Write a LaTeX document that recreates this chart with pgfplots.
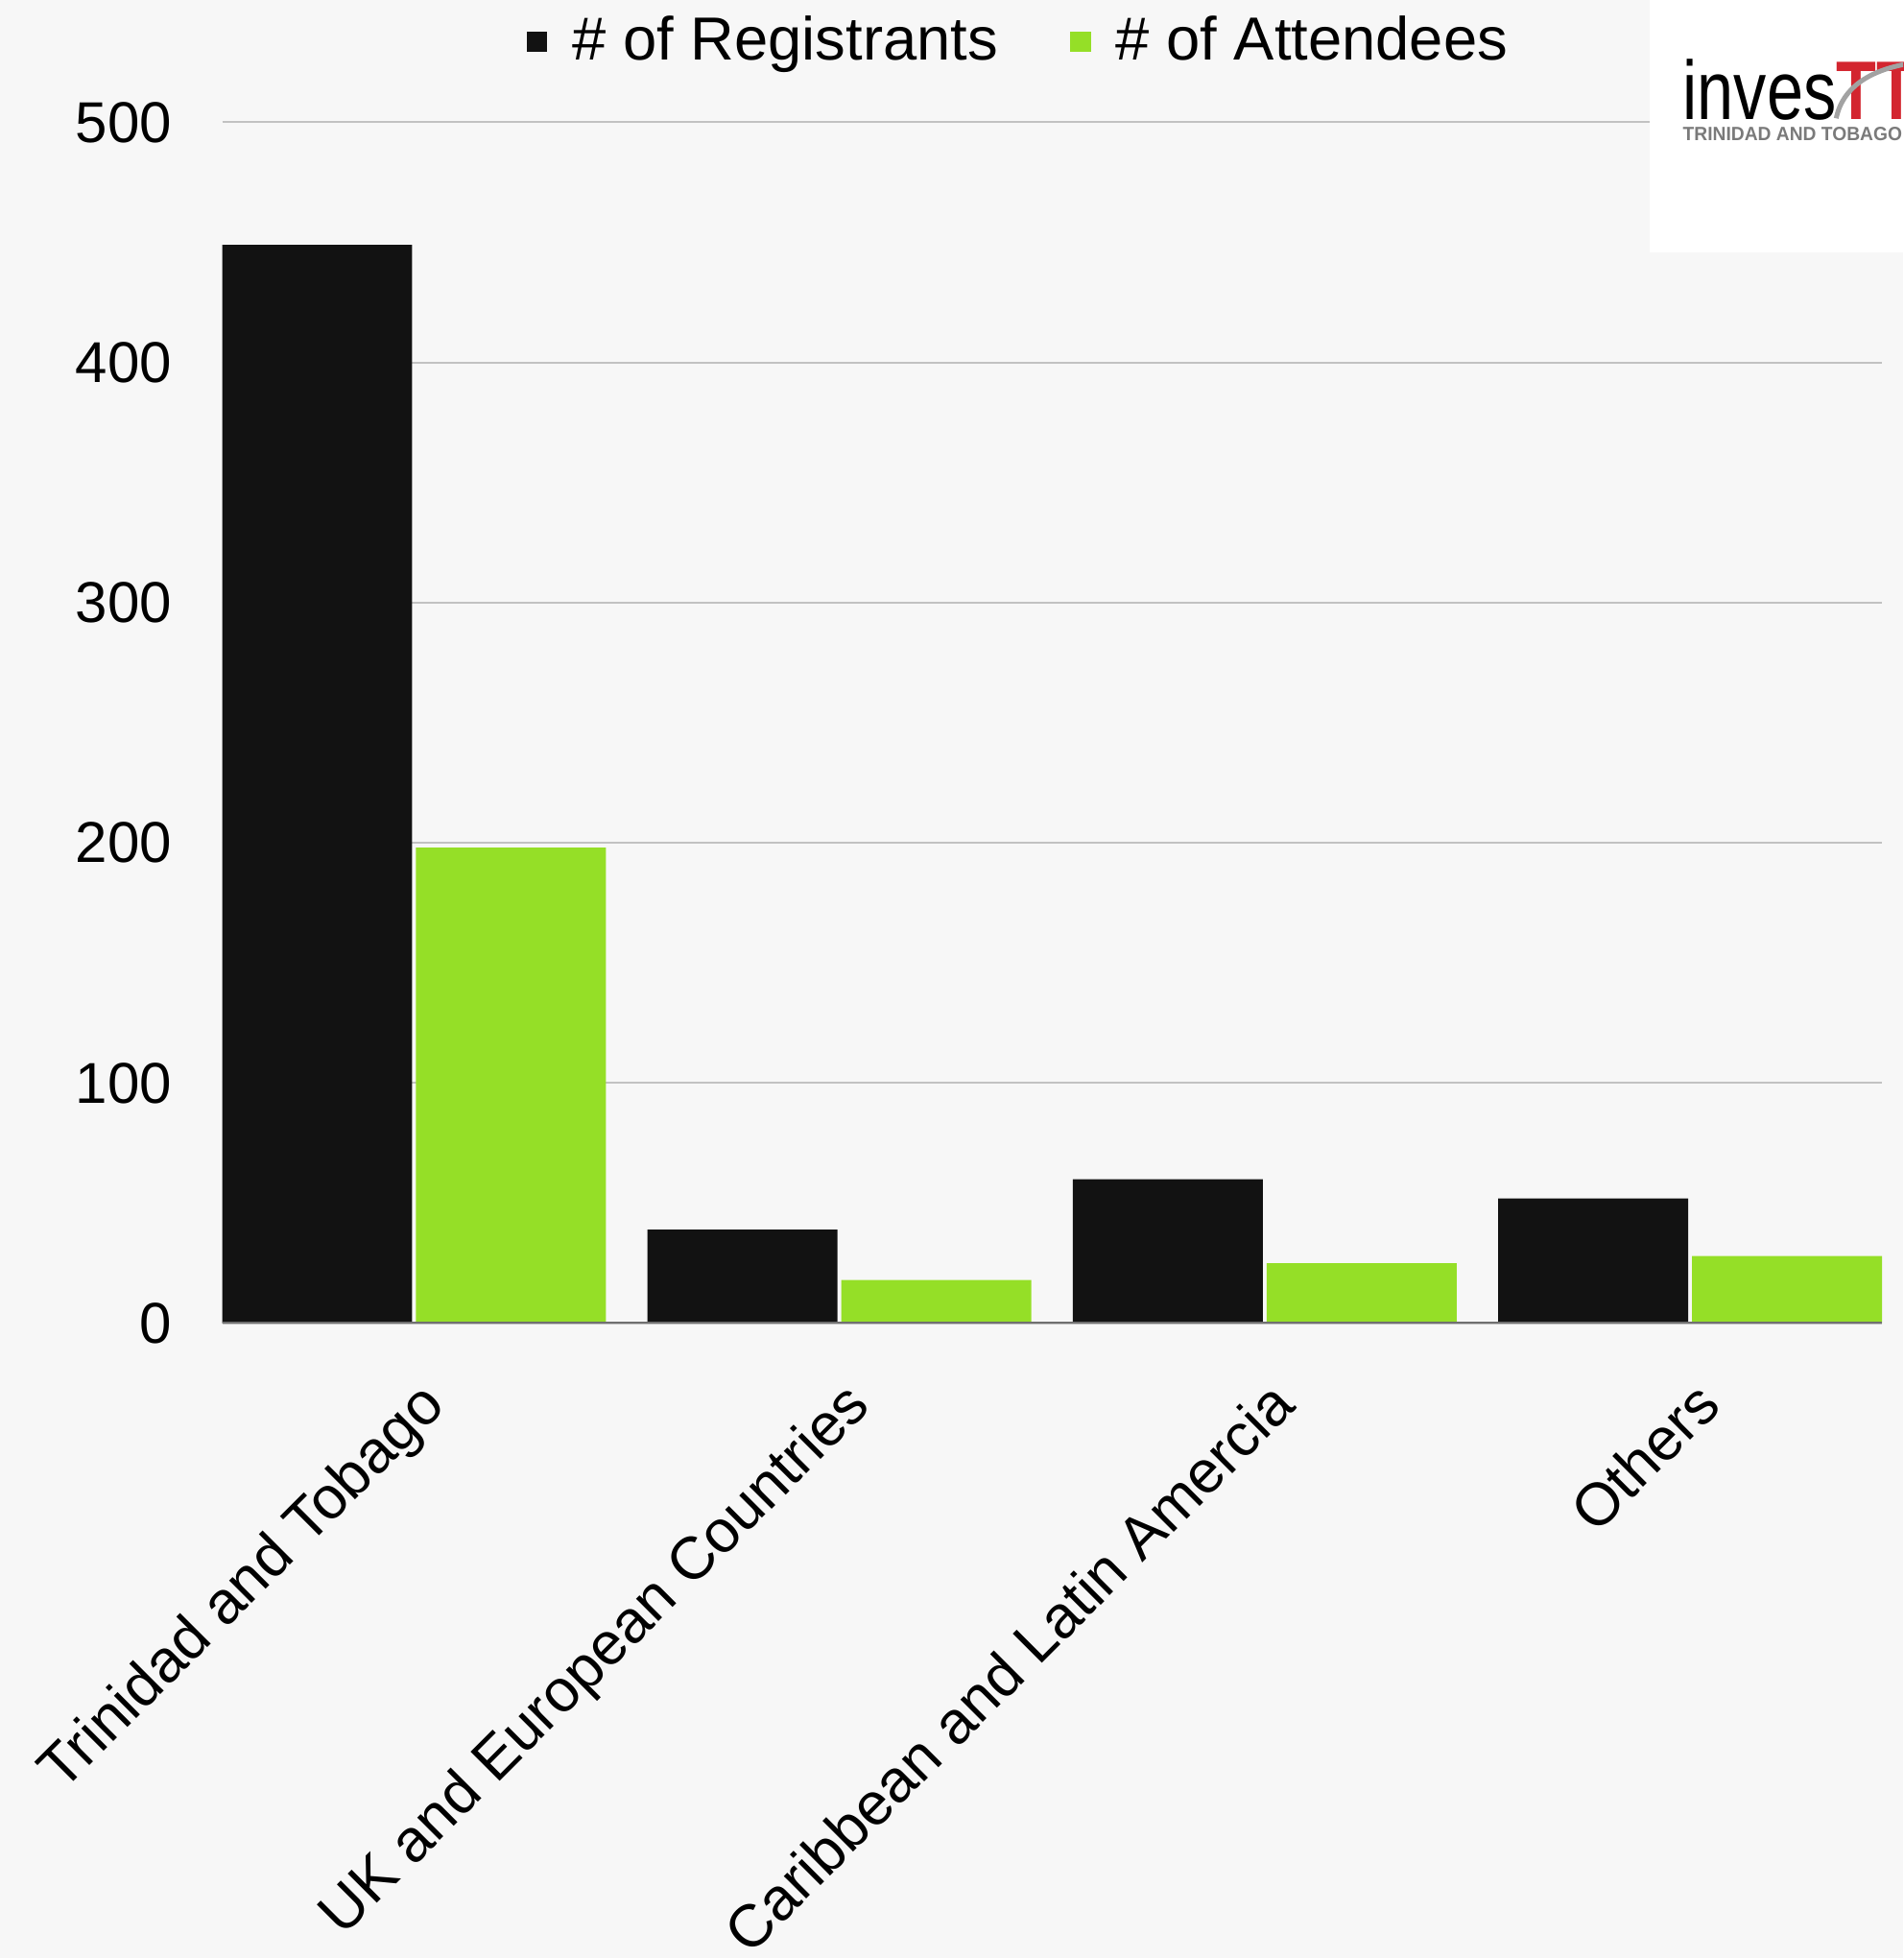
\documentclass[border=0pt]{standalone}
\usepackage{fontspec}
\setmainfont{Liberation Sans}
\usepackage{graphicx}
\usepackage{pgfplots}
\pgfplotsset{compat=1.18}

\definecolor{bg}{HTML}{F7F7F7}
\definecolor{regblack}{HTML}{121212}
\definecolor{attgreen}{HTML}{95DF27}
\definecolor{gridgray}{HTML}{C2C2C2}
\definecolor{basegray}{HTML}{707070}
\definecolor{logored}{HTML}{D3252F}
\definecolor{logogray}{HTML}{7A7A7A}

\begin{document}
\begin{tikzpicture}
\fill[bg] (0,0) rectangle (594.9pt,612pt);
\useasboundingbox (0,0) rectangle (594.9pt,612pt);
\begin{axis}[
    at={(69.5pt,198.4pt)}, anchor=south west,
    scale only axis, width=518.8pt, height=375.35pt,
    xmin=-0.4505, xmax=3.451, ymin=0, ymax=500,
    ybar=1.2pt, bar width=59.4pt,
    axis line style={draw=none},
    major tick length=0pt,
    /pgf/number format/assume math mode=true,
    xtick={0,1,2,3},
    xticklabels={Trinidad and Tobago, UK and European Countries, Caribbean and Latin Amercia, Others},
    ytick={0,100,...,500},
    ymajorgrids, grid style={gridgray, line width=0.6pt},
    yticklabel style={font=\fontsize{18}{21}\selectfont, inner sep=0pt, anchor=east, xshift=-15.6pt},
    xticklabel style={font=\fontsize{18.7}{22}\selectfont, inner sep=0pt, xshift=10.5pt, yshift=-26.4pt, rotate=45, anchor=base east},
    legend style={at={(0.479,1.0685)}, anchor=center, draw=none, fill=none,
        font=\fontsize{19}{22}\selectfont, nodes={inner sep=0pt},
        /tikz/every odd column/.append style={column sep=7.8pt},
        /tikz/every even column/.append style={column sep=22.6pt}},
    legend columns=2,
    legend image code/.code={\fill[#1] (0pt,-3.8pt) rectangle (6.4pt,2.6pt);},
]
\addplot[fill=regblack, draw=none] coordinates {(0,449) (1,39) (2,60) (3,52)};
\addplot[fill=attgreen, draw=none] coordinates {(0,198) (1,18) (2,25) (3,28)};
\legend{\# of Registrants, \# of Attendees}
\draw[basegray, line width=0.9pt] (axis cs:-0.4505,0) -- (axis cs:3.451,0);
\end{axis}
% logo
\fill[white] (515.7pt,533pt) rectangle (594.9pt,612pt);
\begin{scope}
\clip (515.7pt,533pt) rectangle (594.9pt,612pt);
\node[anchor=base west, inner sep=0pt, xscale=0.79, font=\fontsize{26}{26}\selectfont] at (525.9pt,574.5pt) {inves\textcolor{logored}{\bfseries TT}};
\draw[logogray!70, line width=1.5pt] (574pt,575pt) .. controls (576pt,585pt) and (585pt,590pt) .. (596pt,592pt);
\end{scope}
\node[anchor=base west, inner sep=0pt, text=logogray] at (525.9pt,567.9pt) {\resizebox{68.5pt}{4.2pt}{\bfseries TRINIDAD AND TOBAGO}};
\end{tikzpicture}
\end{document}
